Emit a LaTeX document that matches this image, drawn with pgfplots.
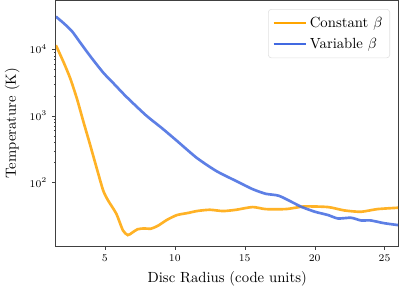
\documentclass[border=0pt]{standalone}
\usepackage{pgfplots}
\pgfplotsset{compat=1.18}
\definecolor{corange}{HTML}{FFA500}
\definecolor{cblue}{HTML}{4169E1}
\begin{document}
\begin{tikzpicture}
\begin{axis}[
  scale only axis,
  width=233pt, height=167pt,
  ymode=log,
  xmin=1.5, xmax=26,
  ymin=11.1, ymax=54000,
  xtick={5,10,15,20,25},
  ytick={100,1000,10000},
  tick align=outside,
  xtick pos=left, ytick pos=left,
  major tick length=2.4pt, minor tick length=1.4pt,
  tick label style={font=\fontsize{7.4}{8}\selectfont},
  xlabel={Disc Radius (code units)},
  ylabel={Temperature (K)},
  axis line style={black!75, line width=0.6pt},
  tick style={black!75},
  legend style={at={(0.975,0.965)}, anchor=north east, draw=black!12, rounded corners=2pt, row sep=2pt, inner sep=3pt},
  legend cell align=left,
  legend image code/.code={\draw[#1, opacity=1, line width=1.2pt] (0pt,0pt) -- (22pt,0pt);},
]
\addplot[corange, line width=1.8pt, opacity=0.85, smooth, tension=0.4] coordinates {
(1.5,11482) (2.06,6310) (2.53,3631) (3.0,1820) (3.47,813) (3.94,372) (4.41,166)
(4.88,75.9) (5.23,53.7) (5.82,33.9) (6.29,19.1) (6.64,16.2) (6.95,17.6)
(7.33,19.8) (7.8,20.4) (8.28,20.2) (8.8,22.4) (9.45,27.5) (10.16,32.4) (11.0,35.0) (11.57,37.2)
(12.5,38.9) (13.45,37.2) (14.39,38.9) (15.56,42.7) (16.5,39.8) (17.91,39.8) (18.61,41.7)
(19.32,43.7) (20.96,42.7) (22.13,38) (23.31,36.3) (24.49,39.8) (25.96,41.7)
};
\addlegendentry{Constant $\beta$}
\addplot[cblue, line width=1.8pt, opacity=0.85, smooth, tension=0.4] coordinates {
(1.5,30900) (2.06,24547) (2.65,18621) (3.24,12589) (3.94,7943) (4.88,4467) (5.7,2951) (6.52,1950)
(7.93,1023) (9.11,646) (10.16,420) (11.57,234) (12.98,148) (14.39,105) (15.56,79.4)
(16.5,67.6) (17.44,63.1) (18.61,47.9) (19.09,42.7) (20.02,36.3) (20.96,32.4) (21.66,28.8)
(22.6,29.5) (23.31,26.9) (24.0,26.9) (24.95,24.5) (25.96,22.9)
};
\addlegendentry{Variable $\beta$}
\end{axis}
\end{tikzpicture}
\end{document}
